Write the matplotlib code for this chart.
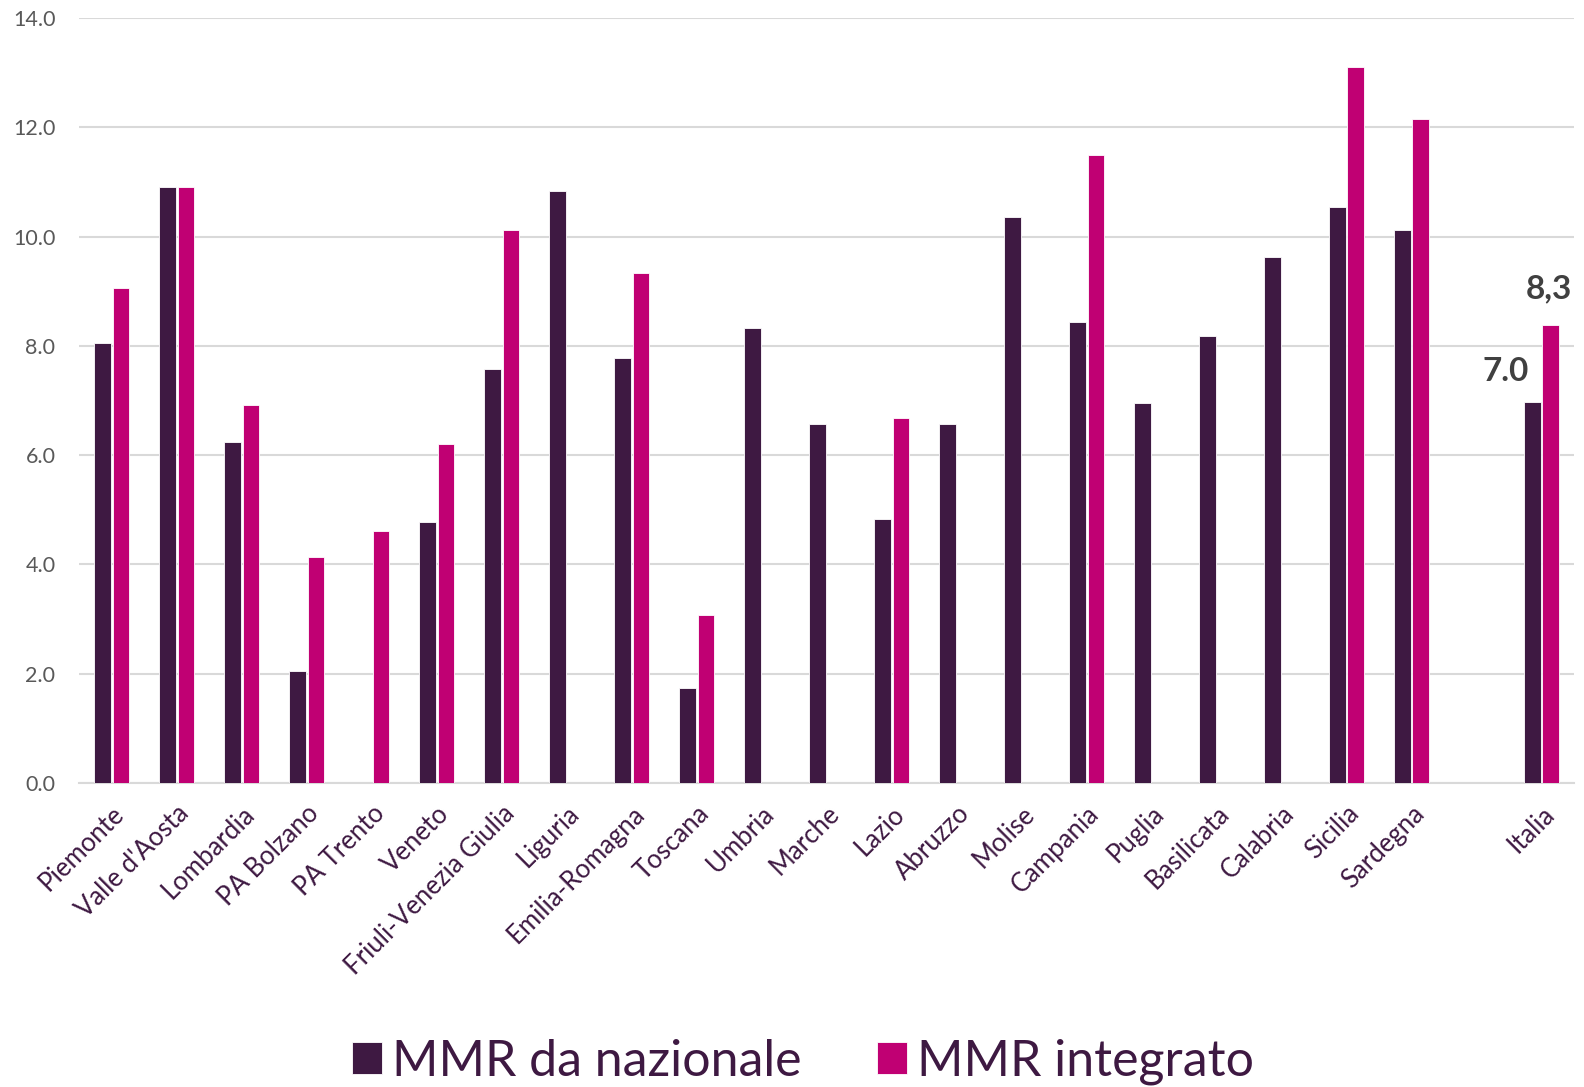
import matplotlib
matplotlib.use("Agg")
import matplotlib.pyplot as plt
import numpy as np

plt.rcParams["font.family"] = ["Lato", "DejaVu Sans"]

regions = ["Piemonte", "Valle d'Aosta", "Lombardia", "PA Bolzano", "PA Trento",
           "Veneto", "Friuli-Venezia Giulia", "Liguria", "Emilia-Romagna",
           "Toscana", "Umbria", "Marche", "Lazio", "Abruzzo", "Molise",
           "Campania", "Puglia", "Basilicata", "Calabria", "Sicilia",
           "Sardegna", "", "Italia"]
mmr_naz = [8.06, 10.91, 6.25, 2.05, np.nan, 4.77, 7.58, 10.84, 7.77, 1.74,
           8.32, 6.58, 4.83, 6.57, 10.36, 8.43, 6.95, 8.19, 9.62, 10.54,
           10.12, np.nan, 6.97]
mmr_int = [9.06, 10.91, 6.92, 4.14, 4.62, 6.2, 10.12, np.nan, 9.34, 3.07,
           np.nan, np.nan, 6.68, np.nan, np.nan, 11.49, np.nan, np.nan, np.nan,
           13.11, 12.15, np.nan, 8.38]
italia_labels = ["7.0", "8,3"]

C_NAZ = "#3E1942"
C_INT = "#C00073"
C_TXT = "#3E1942"

fig = plt.figure(figsize=(15.84, 10.87), dpi=100)
ax = fig.add_axes([0.0499, 0.2797, 0.9438, 0.7036])

x = np.arange(len(regions))
w = 0.26
off = 0.145
ax.bar(x - off, mmr_naz, width=w, color=C_NAZ, edgecolor="white",
       linewidth=0.6, label="MMR da nazionale", zorder=3)
ax.bar(x + off, mmr_int, width=w, color=C_INT, edgecolor="white",
       linewidth=0.6, label="MMR integrato", zorder=3)

# labels on Italia
ax.text(x[-1] - off - 0.4, mmr_naz[-1] + 0.3, italia_labels[0],
        ha="center", va="bottom", fontsize=24, fontweight="bold", color="#404040")
ax.text(x[-1] + off - 0.03, mmr_int[-1] + 0.4, italia_labels[1],
        ha="center", va="bottom", fontsize=24, fontweight="bold", color="#404040")

ax.set_xlim(-0.5, len(regions) - 0.5)
ax.set_ylim(0, 14)
ax.set_yticks(np.arange(0, 14.1, 2))
ax.set_yticklabels([f"{v:.1f}" for v in np.arange(0, 14.1, 2)])
ax.yaxis.grid(True, color="#D9D9D9", linewidth=1.5, zorder=0)
ax.set_axisbelow(True)
for s in ["top", "right", "left"]:
    ax.spines[s].set_visible(False)
ax.spines["bottom"].set_color("#D9D9D9")
ax.spines["bottom"].set_linewidth(1.5)
ax.tick_params(axis="y", length=0, labelsize=15.5, labelcolor="#595959", pad=17)
ax.tick_params(axis="x", length=0, labelsize=18.5, labelcolor=C_TXT, pad=13)
ax.set_xticks(x)
ax.set_xticklabels(regions, rotation=45, ha="right", rotation_mode="anchor")

leg = fig.legend(loc="lower center", bbox_to_anchor=(0.507, -0.04), ncol=2,
                 frameon=False, fontsize=36, handlelength=0.6, handleheight=0.6,
                 handletextpad=0.2, columnspacing=1.5)
for t in leg.get_texts():
    t.set_color(C_TXT)

fig.savefig("out.png", dpi=100)
